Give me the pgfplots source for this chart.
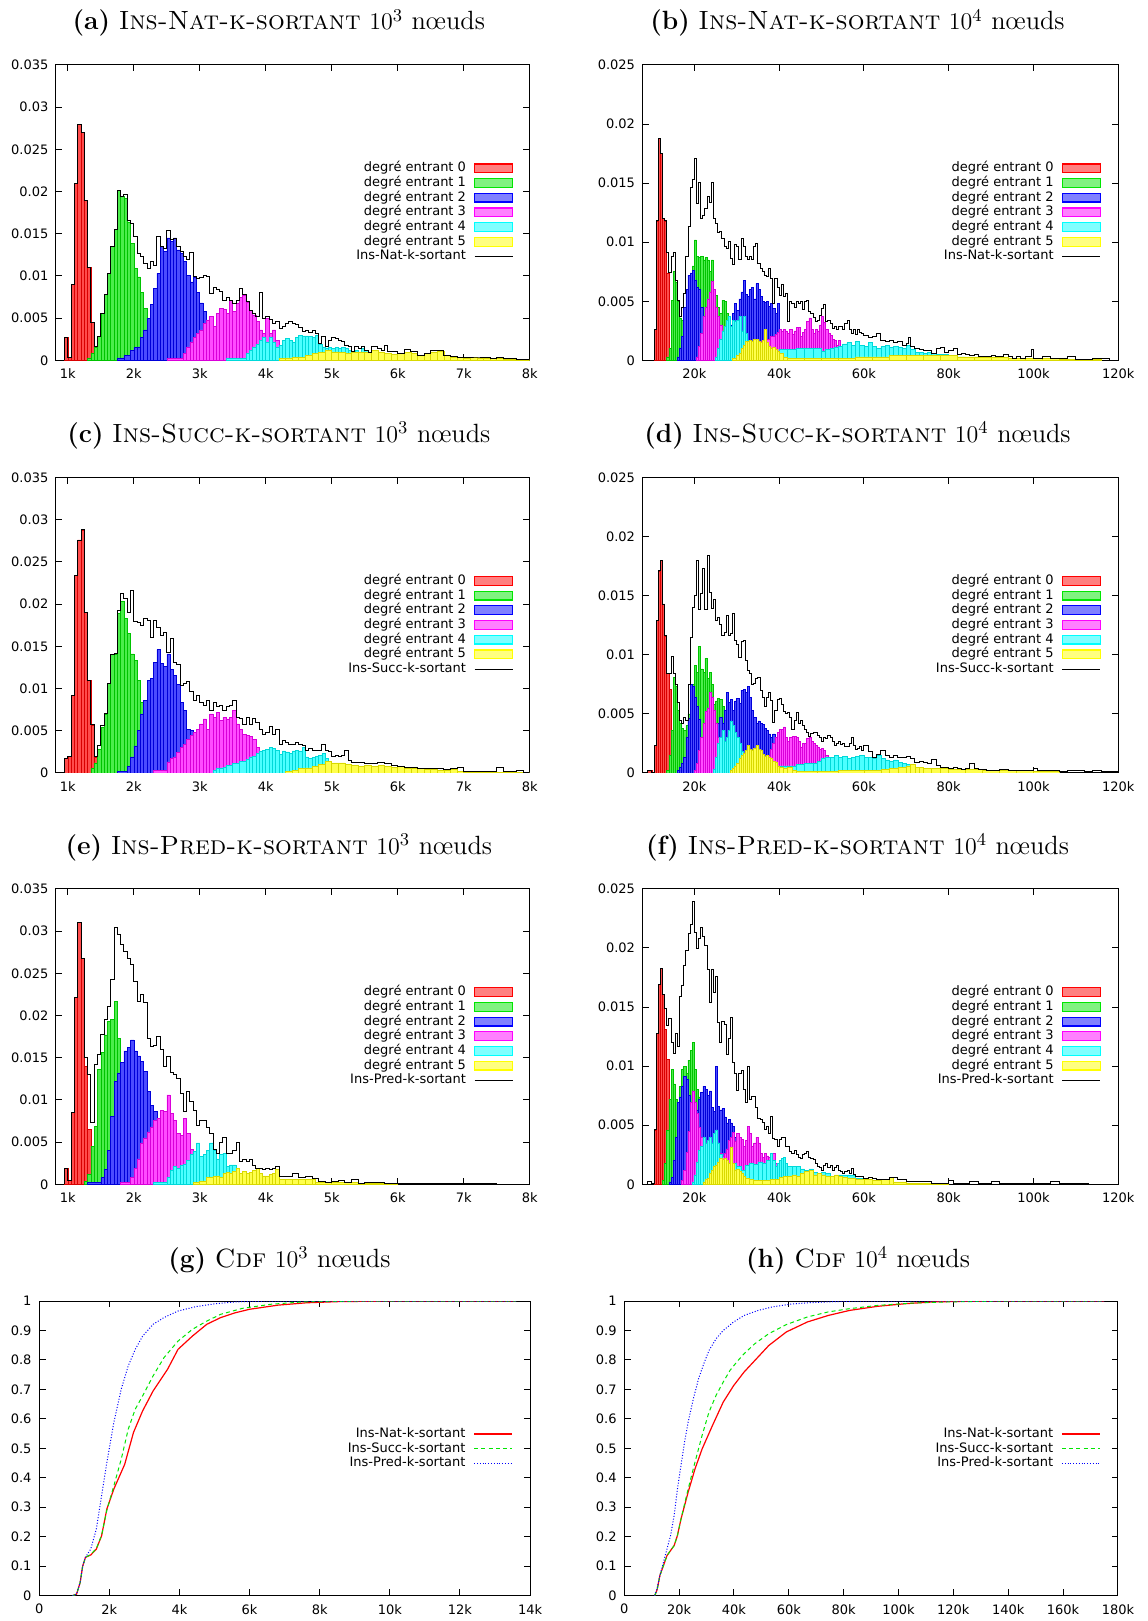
\documentclass[border=0pt]{standalone}
\usepackage{fontspec}
\usepackage{pgfplots}
\pgfplotsset{compat=1.18}
\newfontfamily\gpfont{DejaVu Sans}
\newcommand\gpf{\gpfont\fontsize{6.5}{7.5}\selectfont}
\newcommand\ttl[3]{\fontsize{13.2}{15}\selectfont\textbf{(#1)}\ \textsc{#2} $10^{#3}$ nœuds}
\definecolor{cR}{RGB}{255,0,0}
\definecolor{cG}{RGB}{0,230,0}
\definecolor{cB}{RGB}{0,0,255}
\definecolor{cM}{RGB}{255,0,255}
\definecolor{cC}{RGB}{0,255,255}
\definecolor{cY}{RGB}{255,255,0}
\pgfplotsset{
  hb/.style={ybar interval, fill=#1!70, draw=#1!85!black, line width=0.3pt,
    legend image code/.code={\draw[draw=#1,fill=#1!50,line width=0.6pt] (0pt,-2.2pt) rectangle (19pt,2.2pt);}},
  tot/.style={const plot, black, line width=0.45pt,
    legend image code/.code={\draw[black,line width=0.5pt] (0pt,0pt) -- (19pt,0pt);}},
  base/.style={scale only axis, height=147.8pt, enlargelimits=false, ymin=0, scaled ticks=false,
    axis line style={line width=0.5pt}, tick style={black, line width=0.5pt}, major tick length=3.2pt,
    ticklabel style={font=\gpf}, xticklabel style={yshift=-0.8pt}, yticklabel style={xshift=-0.3pt},
    legend plot pos=right, legend cell align=right,
    legend style={font=\gpf, draw=none, fill=none, inner sep=0pt, anchor=north east,
      row sep=1pt, column sep=4pt, nodes={inner sep=0pt, text height=4.9pt, text depth=1.45pt}}},
  h3/.style={base, width=237pt, xmin=820, xmax=8000, ymax=0.035,
    xtick={1000,2000,3000,4000,5000,6000,7000,8000}, xticklabels={1k,2k,3k,4k,5k,6k,7k,8k},
    ytick={0,0.005,0.01,0.015,0.02,0.025,0.03,0.035}, yticklabels={0,0.005,0.01,0.015,0.02,0.025,0.03,0.035},
    legend style={at={(0.966,0.673)}}},
  h4/.style={base, width=238pt, xmin=7800, xmax=120000, ymax=0.025,
    xtick={20000,40000,60000,80000,100000,120000}, xticklabels={20k,40k,60k,80k,100k,120k},
    ytick={0,0.005,0.01,0.015,0.02,0.025}, yticklabels={0,0.005,0.01,0.015,0.02,0.025},
    legend style={at={(0.964,0.673)}}},
  cdf/.style={base, ymax=1, ytick={0,0.1,0.2,0.3,0.4,0.5,0.6,0.7,0.8,0.9,1},
    yticklabels={0,0.1,0.2,0.3,0.4,0.5,0.6,0.7,0.8,0.9,1}, legend style={at={(0.966,0.572)}}},
  lnat/.style={cR, line width=0.6pt, legend image code/.code={\draw[cR,line width=0.8pt] (0pt,0pt) -- (19pt,0pt);}},
  lsucc/.style={cG, line width=0.5pt, dash pattern=on 2pt off 1.6pt, legend image code/.code={\draw[cG,line width=0.5pt,dash pattern=on 2pt off 1.6pt] (0pt,0pt) -- (19pt,0pt);}},
  lpred/.style={cB, line width=0.5pt, dash pattern=on 0.5pt off 0.9pt, legend image code/.code={\draw[cB,line width=0.5pt,dash pattern=on 0.5pt off 0.9pt] (0pt,0pt) -- (19pt,0pt);}},
}
\begin{document}
\begin{tikzpicture}
\path (0,0) rectangle (574pt,-810.5pt);
\node[anchor=base] at (139.5pt,-15pt) {\ttl{a}{Ins-Nat-k-sortant}{3}};
\node[anchor=base] at (429pt,-15pt) {\ttl{b}{Ins-Nat-k-sortant}{4}};
\node[anchor=base] at (139.5pt,-221.3pt) {\ttl{c}{Ins-Succ-k-sortant}{3}};
\node[anchor=base] at (429pt,-221.3pt) {\ttl{d}{Ins-Succ-k-sortant}{4}};
\node[anchor=base] at (139.5pt,-427.6pt) {\ttl{e}{Ins-Pred-k-sortant}{3}};
\node[anchor=base] at (429pt,-427.6pt) {\ttl{f}{Ins-Pred-k-sortant}{4}};
\node[anchor=base] at (139.8pt,-633.9pt) {\fontsize{13.2}{15}\selectfont\textbf{(g)}\ \textsc{Cdf} $10^{3}$ nœuds};
\node[anchor=base] at (429.3pt,-633.9pt) {\fontsize{13.2}{15}\selectfont\textbf{(h)}\ \textsc{Cdf} $10^{4}$ nœuds};

% (a)
\begin{axis}[h3, at={(28pt,-32.5pt)}, anchor=north west,
  legend entries={degré entrant 0,degré entrant 1,degré entrant 2,degré entrant 3,degré entrant 4,degré entrant 5,Ins-Nat-k-sortant}]
\addplot[hb=cR] coordinates {(950,0.0027)(1000,0.0004)(1050,0.009)(1100,0.021)(1150,0.028)(1200,0.027)(1250,0.019)(1300,0.011)(1350,0.0045)(1400,0.0015)(1450,0)};
\addplot[hb=cG] coordinates {(1300,0.0003)(1350,0.0008)(1400,0.0016)(1450,0.0028)(1500,0.0056)(1550,0.0078)(1600,0.0103)(1650,0.0135)(1700,0.0155)(1750,0.0201)(1800,0.0194)(1850,0.0192)(1900,0.0164)(1950,0.0139)(2000,0.0109)(2050,0.0099)(2100,0.0081)(2150,0.0062)(2200,0.0036)(2250,0.0016)(2300,0.0004)(2350,0)};
\addplot[hb=cB] coordinates {(1750,0.0003)(1850,0.0006)(1950,0.0012)(2000,0.0015)(2050,0.0016)(2100,0.0027)(2150,0.0036)(2200,0.005)(2250,0.0066)(2300,0.0085)(2350,0.0103)(2400,0.0135)(2450,0.0129)(2500,0.0145)(2550,0.0141)(2600,0.0145)(2650,0.0131)(2700,0.0127)(2750,0.0117)(2800,0.0101)(2850,0.0093)(2900,0.0099)(2950,0.0081)(3000,0.0068)(3050,0.0058)(3100,0.0032)(3150,0.0012)(3200,0.0004)(3250,0)};
\addplot[hb=cM] coordinates {(2500,0.0002)(2750,0.0008)(2800,0.0016)(2850,0.0022)(2900,0.0027)(2950,0.0032)(3000,0.0036)(3050,0.0044)(3100,0.0048)(3150,0.0052)(3200,0.004)(3250,0.0056)(3300,0.0062)(3350,0.006)(3400,0.0056)(3450,0.0071)(3500,0.0058)(3550,0.0068)(3600,0.0075)(3650,0.0077)(3700,0.0069)(3750,0.0059)(3800,0.0054)(3850,0.0046)(3900,0.0036)(3950,0.0032)(4000,0.005)(4050,0.0032)(4100,0.0036)(4150,0.0024)(4200,0.0016)(4250,0.001)(4300,0.0006)(4350,0.0004)(4400,0.0002)(4600,0)};
\addplot[hb=cC] coordinates {(3400,0.0002)(3700,0.0008)(3750,0.0012)(3800,0.0016)(3850,0.0019)(3900,0.0024)(3950,0.0027)(4000,0.0022)(4050,0.0027)(4100,0.0022)(4150,0.0016)(4200,0.0018)(4250,0.0024)(4300,0.0026)(4350,0.0024)(4400,0.0022)(4450,0.0027)(4500,0.003)(4550,0.0029)(4600,0.0029)(4650,0.0028)(4700,0.0027)(4750,0.003)(4800,0.0019)(4850,0.0016)(4900,0.0014)(4950,0.0015)(5000,0.0014)(5050,0.0015)(5100,0.0014)(5150,0.0015)(5200,0.0014)(5250,0.0012)(5300,0.0008)(5350,0.0012)(5400,0.001)(5450,0.0014)(5500,0.0012)(5550,0.0008)(5600,0.0006)(5650,0.0004)(5700,0.0006)(5750,0.0004)(5800,0.0002)(6200,0)};
\addplot[hb=cY] coordinates {(4200,0.0002)(4300,0.0003)(4400,0.0004)(4500,0.0004)(4600,0.0006)(4700,0.0008)(4800,0.0009)(4900,0.0012)(5000,0.001)(5100,0.0009)(5200,0.0008)(5300,0.0009)(5400,0.001)(5500,0.0009)(5600,0.0012)(5700,0.001)(5800,0.0008)(5900,0.0007)(6000,0.0008)(6100,0.0009)(6200,0.0008)(6300,0.0006)(6400,0.0008)(6500,0.001)(6600,0.0011)(6700,0.0006)(6800,0.0004)(6900,0.0004)(7000,0.0003)(7100,0.0004)(7200,0.0002)(7300,0.0003)(7400,0.0002)(7500,0.0002)(7600,0.0001)(7700,0.0001)(7800,0.0001)(8000,0)};
\addplot[tot] coordinates {(950,0)(950,0.0027)(1000,0.0004)(1050,0.009)(1100,0.021)(1150,0.028)(1200,0.027)(1250,0.019)(1300,0.011)(1350,0.0045)(1400,0.0016)(1450,0.0028)(1500,0.0056)(1550,0.0078)(1600,0.0103)(1650,0.0135)(1700,0.0155)(1750,0.0201)(1800,0.0194)(1850,0.0197)(1900,0.0166)(1950,0.0162)(2000,0.0147)(2050,0.0127)(2100,0.0123)(2150,0.0115)(2200,0.0109)(2250,0.0117)(2300,0.0113)(2350,0.0147)(2400,0.0135)(2450,0.0133)(2500,0.0154)(2550,0.0143)(2600,0.0145)(2650,0.0135)(2700,0.0129)(2750,0.0123)(2800,0.0119)(2850,0.0128)(2900,0.0099)(2950,0.0097)(3000,0.0098)(3050,0.0101)(3100,0.0099)(3150,0.0079)(3200,0.0087)(3250,0.0084)(3300,0.0082)(3350,0.0071)(3400,0.0075)(3450,0.0071)(3500,0.0068)(3550,0.0071)(3600,0.0085)(3650,0.0078)(3700,0.007)(3750,0.0059)(3800,0.0056)(3850,0.0052)(3900,0.008)(3950,0.005)(4000,0.0052)(4050,0.0048)(4100,0.0044)(4150,0.0046)(4200,0.0038)(4250,0.004)(4300,0.0044)(4350,0.0046)(4400,0.0044)(4450,0.0042)(4500,0.0039)(4550,0.0034)(4600,0.0036)(4650,0.0033)(4700,0.0036)(4750,0.0032)(4800,0.002)(4850,0.0028)(4900,0.0016)(4950,0.0024)(5000,0.0027)(5050,0.0026)(5100,0.0024)(5150,0.0022)(5200,0.0018)(5250,0.0016)(5300,0.001)(5350,0.0016)(5400,0.0014)(5450,0.0017)(5500,0.0012)(5550,0.0009)(5600,0.0016)(5650,0.0016)(5700,0.0014)(5750,0.0012)(5800,0.0018)(5850,0.001)(5900,0.0011)(6000,0.0008)(6100,0.0013)(6200,0.001)(6300,0.0006)(6400,0.0008)(6500,0.0012)(6600,0.0012)(6700,0.0006)(6800,0.0005)(6900,0.0004)(7000,0.0003)(7100,0.0004)(7200,0.0004)(7300,0.0003)(7400,0.0002)(7500,0.0003)(7600,0.0002)(7700,0.0002)(7800,0.0001)(7900,0.0001)(8000,0.0001)};
\end{axis}

% (b)
\begin{axis}[h4, at={(321.5pt,-32.5pt)}, anchor=north west,
  legend entries={degré entrant 0,degré entrant 1,degré entrant 2,degré entrant 3,degré entrant 4,degré entrant 5,Ins-Nat-k-sortant}]
\addplot[hb=cR] coordinates {(10500,0.0026)(11000,0.0118)(11500,0.0188)(12000,0.0175)(12500,0.012)(13000,0.0118)(13500,0.0074)(14000,0.001)(14500,0)};
\addplot[hb=cG] coordinates {(13500,0.0003)(14000,0.001)(14500,0.0051)(15000,0.0075)(15500,0.0066)(16000,0.005)(16500,0.0036)(17000,0.0034)(17500,0.0034)(18000,0.004)(18500,0.005)(19000,0.006)(19500,0.008)(20000,0.0102)(20500,0.0088)(21000,0.0087)(21500,0.0088)(22000,0.0085)(22500,0.0087)(23000,0.0085)(23500,0.0075)(24000,0.0085)(24500,0.0058)(25000,0.0055)(25500,0.0045)(26000,0.004)(26500,0.0051)(27000,0.005)(27500,0.004)(28000,0.0022)(28500,0.0012)(29000,0.0005)(29500,0)};
\addplot[hb=cB] coordinates {(16000,0.0003)(16500,0.001)(17000,0.002)(17500,0.0045)(18000,0.006)(18500,0.0072)(19000,0.0074)(19500,0.0076)(20000,0.0068)(20500,0.0062)(21000,0.006)(21500,0.0045)(22000,0.002)(22500,0.0012)(23000,0.001)(24000,0.0012)(25000,0.0015)(26000,0.002)(27000,0.0025)(28000,0.003)(29000,0.004)(29500,0.0048)(30000,0.0042)(30500,0.0052)(31000,0.0058)(31500,0.0068)(32000,0.0056)(32500,0.0054)(33000,0.006)(33500,0.0062)(34000,0.0052)(34500,0.0065)(35000,0.006)(35500,0.0054)(36000,0.005)(36500,0.0049)(37000,0.005)(37500,0.0046)(38000,0.0048)(38500,0.0044)(39000,0.004)(39500,0.0048)(40000,0.0022)(40500,0.0014)(41000,0.0006)(41500,0.0002)(42000,0)};
\addplot[hb=cM] coordinates {(20500,0.0003)(21000,0.0012)(21500,0.0023)(22000,0.0037)(22500,0.0045)(23000,0.0052)(23500,0.0058)(24000,0.0067)(24500,0.006)(25000,0.0045)(25500,0.0037)(26000,0.003)(26500,0.0016)(27000,0.001)(27500,0.0008)(29000,0.001)(30000,0.001)(31000,0.0012)(32000,0.0012)(33000,0.0014)(34000,0.0015)(35000,0.0016)(36000,0.0016)(37000,0.0018)(38000,0.002)(39000,0.0022)(39500,0.0024)(40000,0.0026)(40500,0.0025)(41000,0.0026)(41500,0.0025)(42000,0.0023)(42500,0.0026)(43000,0.0022)(43500,0.0025)(44000,0.0028)(44500,0.0028)(45000,0.002)(45500,0.0024)(46000,0.0026)(46500,0.0033)(47000,0.0036)(47500,0.0026)(48000,0.0023)(48500,0.0026)(49000,0.0025)(49500,0.003)(50000,0.0037)(50500,0.0032)(51000,0.0026)(51500,0.0023)(52000,0.0021)(52500,0.0018)(53000,0.0017)(53500,0.0013)(54000,0.0017)(54500,0.001)(55000,0.0009)(56000,0.0006)(57000,0.0004)(58000,0.0002)(60000,0)};
\addplot[hb=cC] coordinates {(25000,0.0003)(25500,0.001)(26000,0.0018)(26500,0.0025)(27000,0.0029)(27500,0.0034)(28000,0.0037)(28500,0.0029)(29000,0.0034)(29500,0.0033)(30000,0.0034)(30500,0.0037)(31000,0.0025)(31500,0.0037)(32000,0.0023)(32500,0.0017)(33000,0.0012)(34000,0.0008)(36000,0.0008)(38000,0.0008)(40000,0.0009)(42000,0.0009)(44000,0.001)(46000,0.001)(48000,0.001)(50000,0.0008)(51000,0.0009)(52000,0.001)(53000,0.0011)(54000,0.0012)(55000,0.0014)(56000,0.0015)(57000,0.0013)(58000,0.0016)(59000,0.0013)(60000,0.0012)(61000,0.0015)(62000,0.0012)(63000,0.001)(64000,0.0012)(65000,0.0013)(66000,0.0011)(67000,0.0012)(68000,0.0011)(69000,0.001)(70000,0.0013)(71000,0.0009)(72000,0.0007)(73000,0.0007)(74000,0.0006)(75000,0.0007)(76000,0.0006)(77000,0.0005)(78000,0.0005)(80000,0.0004)(82000,0.0003)(84000,0.0002)(88000,0)};
\addplot[hb=cY] coordinates {(29000,0.0002)(30000,0.0004)(30500,0.0006)(31000,0.001)(31500,0.0013)(32000,0.0016)(32500,0.0016)(33000,0.0017)(33500,0.0016)(34000,0.0018)(34500,0.0018)(35000,0.0016)(35500,0.0015)(36000,0.0017)(36500,0.0026)(37000,0.0015)(37500,0.0012)(38000,0.001)(38500,0.0011)(39000,0.0009)(39500,0.0008)(40000,0.0006)(41000,0.0003)(42000,0.0002)(46000,0.0002)(50000,0.0002)(54000,0.0002)(58000,0.0003)(62000,0.0003)(66000,0.0004)(70000,0.0004)(74000,0.0004)(78000,0.0004)(82000,0.0003)(86000,0.0003)(90000,0.0003)(94000,0.0002)(98000,0.0002)(102000,0.0002)(106000,0.0001)(110000,0.0001)(116000,0)};
\addplot[tot] coordinates {(10500,0)(10500,0.0026)(11000,0.0118)(11500,0.0188)(12000,0.0175)(12500,0.012)(13000,0.0118)(13500,0.0091)(14000,0.0074)(14500,0.0088)(15000,0.0091)(15500,0.0068)(16000,0.0051)(16500,0.0037)(17000,0.0045)(17500,0.0057)(18000,0.0088)(18500,0.0113)(19000,0.0146)(19500,0.0153)(20000,0.0171)(20500,0.0133)(21000,0.0151)(21500,0.012)(22000,0.0123)(22500,0.0129)(23000,0.0139)(23500,0.0134)(24000,0.0151)(24500,0.012)(25000,0.0116)(25500,0.0108)(26000,0.0109)(26500,0.0103)(27000,0.0096)(27500,0.0095)(28000,0.0101)(28500,0.0086)(29000,0.0081)(29500,0.0098)(30000,0.0096)(30500,0.0085)(31000,0.0103)(31500,0.0096)(32000,0.0088)(32500,0.0085)(33000,0.0088)(33500,0.0085)(34000,0.0096)(34500,0.0099)(35000,0.0082)(35500,0.0078)(36000,0.0075)(36500,0.0072)(37000,0.0071)(37500,0.0078)(38000,0.0069)(38500,0.0048)(39000,0.0069)(39500,0.0062)(40000,0.0055)(40500,0.0064)(41000,0.0054)(41500,0.0057)(42000,0.0033)(42500,0.005)(43000,0.0048)(43500,0.0045)(44000,0.005)(44500,0.0048)(45000,0.005)(45500,0.0043)(46000,0.005)(46500,0.0051)(47000,0.0041)(47500,0.004)(48000,0.0036)(48500,0.0033)(49000,0.0034)(49500,0.0038)(50000,0.0044)(50500,0.0047)(51000,0.0033)(51500,0.0034)(52000,0.0031)(52500,0.0027)(53000,0.0029)(53500,0.0026)(54000,0.0029)(54500,0.0029)(55000,0.0026)(55500,0.0031)(56000,0.0034)(56500,0.0026)(57000,0.0023)(57500,0.0026)(58000,0.0022)(58500,0.0026)(59000,0.0024)(59500,0.0023)(60000,0.0021)(61000,0.0019)(62000,0.002)(63000,0.0023)(64000,0.0017)(65000,0.0016)(66000,0.0017)(67000,0.0015)(68000,0.0016)(69000,0.0013)(70000,0.0014)(70500,0.0019)(71000,0.0012)(72000,0.001)(73000,0.0009)(74000,0.0008)(75000,0.0008)(76000,0.0006)(77000,0.001)(78000,0.0011)(79000,0.0007)(80000,0.0008)(81000,0.001)(82000,0.0005)(83000,0.0006)(84000,0.0005)(85000,0.0004)(86000,0.0005)(87000,0.0003)(88000,0.0003)(89000,0.0003)(90000,0.0004)(91000,0.0003)(92000,0.0003)(93000,0.0005)(94000,0.0003)(95000,0.0002)(96000,0.0003)(97000,0.0002)(98000,0.0003)(99000,0.0003)(99500,0.0009)(100000,0.0002)(102000,0.0003)(104000,0.0002)(106000,0.0002)(108000,0.0003)(110000,0.0001)(112000,0.0001)(114000,0.0002)(118000,0)};
\end{axis}

% (c)
\begin{axis}[h3, at={(28pt,-238.9pt)}, anchor=north west,
  legend entries={degré entrant 0,degré entrant 1,degré entrant 2,degré entrant 3,degré entrant 4,degré entrant 5,Ins-Succ-k-sortant}]
\addplot[hb=cR] coordinates {(950,0.0017)(1000,0.002)(1050,0.0092)(1100,0.0234)(1150,0.0276)(1200,0.0288)(1250,0.019)(1300,0.011)(1350,0.0057)(1400,0.0019)(1450,0)};
\addplot[hb=cG] coordinates {(1350,0.0005)(1400,0.0012)(1450,0.0028)(1500,0.0054)(1550,0.007)(1600,0.0106)(1650,0.014)(1700,0.0141)(1750,0.0189)(1800,0.0203)(1850,0.0183)(1900,0.0165)(1950,0.0141)(2000,0.0133)(2050,0.011)(2100,0.0084)(2150,0.0074)(2200,0.003)(2250,0.001)(2300,0.0003)(2350,0)};
\addplot[hb=cB] coordinates {(1750,0.0002)(1900,0.0008)(1950,0.0019)(2000,0.0032)(2050,0.005)(2100,0.007)(2150,0.0086)(2200,0.011)(2250,0.0112)(2300,0.0131)(2350,0.0146)(2400,0.013)(2450,0.0126)(2500,0.0141)(2550,0.0123)(2600,0.0116)(2650,0.0105)(2700,0.0084)(2750,0.0074)(2800,0.0052)(2850,0.005)(2900,0.0035)(2950,0.0018)(3000,0.0006)(3050,0.0002)(3100,0)};
\addplot[hb=cM] coordinates {(2300,0.0003)(2500,0.0013)(2550,0.0017)(2600,0.0019)(2650,0.0024)(2700,0.003)(2750,0.0034)(2800,0.004)(2850,0.0044)(2900,0.0048)(2950,0.0052)(3000,0.0058)(3050,0.0064)(3100,0.0052)(3150,0.007)(3200,0.0066)(3250,0.0072)(3300,0.0062)(3350,0.0066)(3400,0.0064)(3450,0.0066)(3500,0.0074)(3550,0.0058)(3600,0.0052)(3650,0.0046)(3700,0.0044)(3750,0.0043)(3800,0.004)(3850,0.003)(3900,0.0022)(3950,0.0018)(4000,0.0012)(4050,0.0008)(4100,0.0005)(4150,0.0003)(4250,0)};
\addplot[hb=cC] coordinates {(3200,0.0003)(3250,0.0005)(3300,0.0006)(3350,0.0007)(3400,0.0009)(3500,0.0011)(3600,0.0014)(3700,0.0016)(3750,0.0019)(3800,0.002)(3850,0.0023)(3900,0.0026)(3950,0.0027)(4000,0.0028)(4050,0.003)(4100,0.0029)(4150,0.0027)(4200,0.0022)(4250,0.0026)(4300,0.0025)(4350,0.0023)(4400,0.0026)(4450,0.0027)(4500,0.0026)(4550,0.003)(4600,0.0019)(4650,0.0017)(4700,0.0018)(4750,0.002)(4800,0.0021)(4850,0.0023)(4900,0.0017)(4950,0.0014)(5000,0.0011)(5050,0.0008)(5100,0.0009)(5150,0.001)(5200,0.0008)(5300,0.0006)(5400,0.0004)(5500,0.0002)(5700,0)};
\addplot[hb=cY] coordinates {(4300,0.0002)(4400,0.0003)(4500,0.0005)(4600,0.0006)(4700,0.0008)(4800,0.001)(4900,0.0014)(5000,0.0012)(5100,0.0012)(5200,0.001)(5300,0.0009)(5400,0.0008)(5500,0.0009)(5600,0.0008)(5700,0.0009)(5800,0.0008)(5900,0.0007)(6000,0.0008)(6100,0.0006)(6200,0.0006)(6300,0.0005)(6400,0.0004)(6500,0.0004)(6600,0.0003)(6700,0.0003)(6800,0.0004)(6900,0.0002)(7000,0.0001)(8000,0)};
\addplot[tot] coordinates {(950,0)(950,0.0017)(1000,0.002)(1050,0.0092)(1100,0.0234)(1150,0.0276)(1200,0.0288)(1250,0.019)(1300,0.011)(1350,0.0057)(1400,0.0019)(1450,0.0032)(1500,0.0056)(1550,0.007)(1600,0.0106)(1650,0.014)(1700,0.0141)(1750,0.0193)(1800,0.0213)(1850,0.0207)(1900,0.019)(1950,0.0216)(2000,0.018)(2050,0.0178)(2100,0.0175)(2150,0.0183)(2200,0.0181)(2250,0.016)(2300,0.0181)(2350,0.0172)(2400,0.0163)(2450,0.0166)(2500,0.0143)(2550,0.0159)(2600,0.0131)(2650,0.0128)(2700,0.0104)(2750,0.0106)(2800,0.0108)(2850,0.0096)(2900,0.0086)(2950,0.0092)(3000,0.0084)(3050,0.008)(3100,0.0086)(3150,0.0074)(3200,0.0083)(3250,0.0079)(3300,0.008)(3350,0.0074)(3400,0.0079)(3450,0.008)(3500,0.0086)(3550,0.0066)(3600,0.0064)(3650,0.0058)(3700,0.0066)(3750,0.0058)(3800,0.0064)(3850,0.006)(3900,0.0052)(3950,0.0046)(4000,0.0048)(4050,0.0055)(4100,0.0046)(4150,0.0052)(4200,0.0034)(4250,0.0038)(4300,0.0036)(4350,0.0034)(4400,0.0034)(4450,0.0036)(4500,0.0034)(4550,0.0032)(4600,0.0027)(4650,0.0029)(4700,0.0027)(4750,0.0027)(4800,0.0027)(4850,0.0034)(4900,0.0027)(4950,0.0025)(5000,0.0019)(5050,0.0021)(5100,0.0019)(5150,0.0021)(5200,0.0027)(5250,0.0015)(5300,0.0013)(5400,0.0013)(5500,0.0011)(5600,0.0011)(5700,0.0013)(5800,0.0011)(5900,0.0009)(6000,0.0008)(6100,0.0007)(6200,0.0006)(6300,0.0005)(6400,0.0005)(6500,0.0005)(6600,0.0005)(6700,0.0004)(6800,0.0005)(6900,0.0006)(7000,0.0002)(7100,0.0002)(7200,0.0002)(7300,0.0002)(7400,0.0002)(7500,0.0007)(7600,0.0002)(7700,0.0002)(7800,0.0003)(7900,0.0001)(8000,0.0001)};
\end{axis}

% (d)
\begin{axis}[h4, at={(321.5pt,-238.9pt)}, anchor=north west,
  legend entries={degré entrant 0,degré entrant 1,degré entrant 2,degré entrant 3,degré entrant 4,degré entrant 5,Ins-Succ-k-sortant}]
\addplot[hb=cR] coordinates {(9000,0.0002)(10000,0)(10500,0.0023)(11000,0.0129)(11500,0.0171)(12000,0.018)(12500,0.0143)(13000,0.0116)(13500,0.0084)(14000,0.0071)(14500,0.0015)(15000,0)};
\addplot[hb=cG] coordinates {(13500,0.0002)(14000,0.0015)(14500,0.0036)(15000,0.0081)(15500,0.0073)(16000,0.0053)(16500,0.0042)(17000,0.0038)(17500,0.0036)(18000,0.004)(18500,0.005)(19000,0.0062)(19500,0.0075)(20000,0.0091)(20500,0.0085)(21000,0.0107)(21500,0.0088)(22000,0.0085)(22500,0.0097)(23000,0.008)(23500,0.0085)(24000,0.0075)(24500,0.0058)(25000,0.0061)(25500,0.0063)(26000,0.0062)(26500,0.0056)(27000,0.0042)(27500,0.0025)(28000,0.0012)(28500,0.0004)(29000,0)};
\addplot[hb=cB] coordinates {(16000,0.0002)(16500,0.0005)(17000,0.0008)(17500,0.0013)(18000,0.003)(18500,0.0046)(19000,0.0075)(19500,0.0073)(20000,0.0064)(20500,0.0056)(21000,0.0045)(21500,0.003)(22000,0.0012)(22500,0.0015)(23000,0.0018)(23500,0.002)(24000,0.0022)(24500,0.003)(25000,0.0036)(25500,0.0042)(26000,0.0047)(26500,0.0042)(27000,0.0053)(27500,0.0068)(28000,0.006)(28500,0.0062)(29000,0.0053)(29500,0.0061)(30000,0.0063)(30500,0.0059)(31000,0.007)(31500,0.0071)(32000,0.0068)(32500,0.0073)(33000,0.0064)(33500,0.0053)(34000,0.0047)(34500,0.0042)(35000,0.0044)(35500,0.0042)(36000,0.0041)(36500,0.0038)(37000,0.0036)(37500,0.0033)(38000,0.003)(38500,0.0033)(39000,0.0028)(39500,0.0025)(40000,0.0019)(40500,0.001)(41000,0.0005)(41500,0)};
\addplot[hb=cM] coordinates {(20000,0.0002)(20500,0.0008)(21000,0.0019)(21500,0.003)(22000,0.0042)(22500,0.0052)(23000,0.0055)(23500,0.0068)(24000,0.0064)(24500,0.0053)(25000,0.0042)(25500,0.003)(26000,0.0019)(26500,0.001)(27000,0.0005)(27500,0.0004)(29000,0.0005)(30000,0.0005)(31000,0.0006)(32000,0.0008)(33000,0.0009)(34000,0.001)(35000,0.0012)(36000,0.0014)(37000,0.0015)(38000,0.002)(38500,0.0025)(39000,0.003)(39500,0.0034)(40000,0.0037)(40500,0.0037)(41000,0.0039)(41500,0.003)(42000,0.0027)(42500,0.003)(43000,0.0031)(43500,0.0031)(44000,0.003)(44500,0.0027)(45000,0.0022)(45500,0.0025)(46000,0.0025)(46500,0.0029)(47000,0.003)(47500,0.0027)(48000,0.0025)(48500,0.0023)(49000,0.0022)(49500,0.002)(50000,0.0021)(50500,0.0019)(51000,0.0015)(51500,0.0013)(52000,0.0008)(52500,0.0005)(53000,0.0003)(54000,0)};
\addplot[hb=cC] coordinates {(24500,0.0003)(25000,0.0013)(25500,0.0025)(26000,0.003)(26500,0.0036)(27000,0.0027)(27500,0.003)(28000,0.0036)(28500,0.0044)(29000,0.004)(29500,0.0034)(30000,0.003)(30500,0.0025)(31000,0.0018)(31500,0.001)(32000,0.0007)(33000,0.0005)(34000,0.0005)(36000,0.0005)(38000,0.0005)(40000,0.0006)(42000,0.0006)(44000,0.0007)(46000,0.0008)(48000,0.0008)(49000,0.001)(50000,0.0012)(51000,0.0013)(52000,0.0013)(53000,0.0015)(54000,0.0013)(55000,0.0014)(56000,0.0012)(57000,0.0013)(58000,0.0014)(59000,0.0015)(60000,0.0013)(61000,0.0013)(62000,0.0012)(63000,0.0015)(64000,0.0012)(65000,0.0011)(66000,0.001)(67000,0.0011)(68000,0.0009)(69000,0.0008)(70000,0.0007)(71000,0.0005)(72000,0.0004)(74000,0.0003)(76000,0.0002)(80000,0)};
\addplot[hb=cY] coordinates {(28500,0.0002)(29000,0.0004)(29500,0.0006)(30000,0.0008)(30500,0.0012)(31000,0.0015)(31500,0.0017)(32000,0.0019)(32500,0.0023)(33000,0.002)(33500,0.0019)(34000,0.0021)(34500,0.0023)(35000,0.002)(35500,0.0019)(36000,0.0016)(36500,0.0014)(37000,0.0015)(37500,0.0013)(38000,0.0012)(38500,0.001)(39000,0.0009)(39500,0.0006)(40000,0.0005)(41000,0.0004)(42000,0.0005)(43000,0.0002)(44000,0.0001)(49000,0.0001)(54000,0.0002)(60000,0.0002)(64000,0.0003)(66000,0.0004)(68000,0.0005)(70000,0.0006)(71000,0.0007)(72000,0.0005)(73000,0.0005)(74000,0.0004)(76000,0.0004)(78000,0.0004)(80000,0.0003)(84000,0.0003)(88000,0.0002)(92000,0.0002)(96000,0.0002)(100000,0.0001)(106000,0)};
\addplot[tot] coordinates {(9000,0)(9000,0.0002)(10000,0)(10500,0.0023)(11000,0.0129)(11500,0.0171)(12000,0.018)(12500,0.0143)(13000,0.0116)(13500,0.0084)(14000,0.0084)(14500,0.0099)(15000,0.0084)(15500,0.0075)(16000,0.006)(16500,0.0044)(17000,0.0042)(17500,0.0047)(18000,0.0044)(18500,0.0075)(19000,0.0115)(19500,0.014)(20000,0.015)(20500,0.018)(21000,0.0138)(21500,0.0152)(22000,0.0173)(22500,0.0138)(23000,0.0184)(23500,0.0153)(24000,0.0139)(24500,0.0147)(25000,0.0129)(25500,0.0132)(26000,0.0126)(26500,0.0116)(27000,0.0119)(27500,0.0133)(28000,0.0116)(28500,0.0118)(29000,0.0135)(29500,0.0112)(30000,0.0109)(30500,0.0098)(31000,0.0111)(31500,0.0112)(32000,0.0095)(32500,0.0087)(33000,0.0084)(33500,0.0075)(34000,0.0076)(34500,0.008)(35000,0.0081)(35500,0.007)(36000,0.0064)(36500,0.0056)(37000,0.0064)(37500,0.0068)(38000,0.0061)(38500,0.0043)(39000,0.0053)(39500,0.0062)(40000,0.0063)(40500,0.0058)(41000,0.0052)(41500,0.005)(42000,0.0051)(42500,0.0047)(43000,0.0037)(43500,0.0044)(44000,0.0051)(44500,0.0042)(45000,0.0044)(45500,0.004)(46000,0.0037)(46500,0.0034)(47000,0.0031)(47500,0.0033)(48000,0.0034)(48500,0.0034)(49000,0.0032)(49500,0.003)(50000,0.0027)(50500,0.003)(51000,0.0029)(51500,0.0032)(52000,0.003)(52500,0.0027)(53000,0.0023)(53500,0.0025)(54000,0.0027)(54500,0.0024)(55000,0.0025)(55500,0.0022)(56000,0.0022)(56500,0.0025)(57000,0.003)(57500,0.0023)(58000,0.002)(58500,0.0021)(59000,0.0022)(59500,0.0019)(60000,0.0023)(61000,0.0018)(62000,0.0013)(63000,0.0016)(64000,0.0019)(65000,0.0015)(66000,0.0013)(67000,0.0015)(68000,0.0013)(69000,0.0013)(70000,0.0014)(71000,0.0012)(72000,0.0009)(73000,0.001)(74000,0.0009)(75000,0.0008)(76000,0.0011)(77000,0.0006)(78000,0.0005)(79000,0.0005)(80000,0.0004)(81000,0.0005)(82000,0.0004)(83000,0.0003)(84000,0.0004)(85000,0.0008)(86000,0.0004)(87000,0.0003)(88000,0.0003)(89000,0.0002)(90000,0.0002)(92000,0.0003)(94000,0.0002)(96000,0.0002)(98000,0.0002)(100000,0.0004)(101000,0.0002)(103000,0.0002)(106000,0.0001)(108000,0.0002)(110000,0.0002)(112000,0.0001)(114000,0.0002)(116000,0.0001)(118000,0.0001)(120000,0)};
\end{axis}

% (e)
\begin{axis}[h3, at={(28pt,-444.7pt)}, anchor=north west,
  legend entries={degré entrant 0,degré entrant 1,degré entrant 2,degré entrant 3,degré entrant 4,degré entrant 5,Ins-Pred-k-sortant}]
\addplot[hb=cR] coordinates {(950,0.0019)(1000,0.0005)(1050,0.0085)(1100,0.0221)(1150,0.031)(1200,0.0268)(1250,0.014)(1300,0.0065)(1350,0.003)(1400,0.0008)(1450,0)};
\addplot[hb=cG] coordinates {(1250,0.0003)(1300,0.0012)(1350,0.0045)(1400,0.0069)(1450,0.0136)(1500,0.0156)(1550,0.0177)(1600,0.0193)(1650,0.0195)(1700,0.0217)(1750,0.0173)(1800,0.0132)(1850,0.006)(1900,0.0025)(1950,0.0008)(2000,0.0002)(2050,0)};
\addplot[hb=cB] coordinates {(1300,0.0002)(1500,0.0008)(1550,0.0018)(1600,0.004)(1650,0.008)(1700,0.0122)(1750,0.0132)(1800,0.0144)(1850,0.0158)(1900,0.0162)(1950,0.0171)(2000,0.0158)(2050,0.0152)(2100,0.0146)(2150,0.0134)(2200,0.011)(2250,0.0093)(2300,0.0086)(2350,0.0076)(2400,0.005)(2450,0.002)(2500,0.0007)(2550,0)};
\addplot[hb=cM] coordinates {(1800,0.0002)(1950,0.0008)(2000,0.0019)(2050,0.003)(2100,0.0049)(2150,0.0055)(2200,0.0062)(2250,0.0068)(2300,0.0076)(2350,0.0078)(2400,0.0088)(2450,0.0086)(2500,0.0106)(2550,0.0084)(2600,0.0076)(2650,0.006)(2700,0.0058)(2750,0.0078)(2800,0.006)(2850,0.0041)(2900,0.0016)(2950,0.0006)(3000,0.0002)(3050,0)};
\addplot[hb=cC] coordinates {(2300,0.0002)(2500,0.0008)(2550,0.0016)(2600,0.0021)(2650,0.0019)(2700,0.0022)(2750,0.0024)(2800,0.0028)(2850,0.0035)(2900,0.0039)(2950,0.0049)(3000,0.0033)(3050,0.0035)(3100,0.004)(3150,0.0049)(3200,0.004)(3250,0.003)(3300,0.0035)(3350,0.0037)(3400,0.0021)(3450,0.0023)(3500,0.0023)(3550,0.0017)(3600,0.0009)(3650,0.0005)(3700,0.0003)(3800,0)};
\addplot[hb=cY] coordinates {(2900,0.0002)(3000,0.0004)(3100,0.0008)(3200,0.0009)(3250,0.001)(3300,0.0008)(3350,0.0013)(3400,0.0014)(3450,0.0013)(3500,0.0015)(3550,0.0019)(3600,0.0013)(3650,0.0015)(3700,0.0013)(3750,0.0014)(3800,0.0016)(3850,0.0019)(3900,0.0013)(3950,0.001)(4000,0.001)(4050,0.0012)(4100,0.0013)(4150,0.0018)(4200,0.0006)(4300,0.0006)(4400,0.0006)(4500,0.0006)(4600,0.0006)(4700,0.0006)(4750,0.0002)(5000,0.0002)(5400,0.0001)(6000,0)};
\addplot[tot] coordinates {(950,0)(950,0.0019)(1000,0.0005)(1050,0.0085)(1100,0.0221)(1150,0.031)(1200,0.0268)(1250,0.015)(1300,0.013)(1350,0.0073)(1400,0.0142)(1450,0.0154)(1500,0.0177)(1550,0.0195)(1600,0.0211)(1650,0.0243)(1700,0.0304)(1750,0.0296)(1800,0.0284)(1850,0.0276)(1900,0.0268)(1950,0.026)(2000,0.024)(2050,0.0217)(2100,0.0225)(2150,0.0215)(2200,0.0173)(2250,0.0163)(2300,0.0165)(2350,0.0175)(2400,0.016)(2450,0.014)(2500,0.0152)(2550,0.0132)(2600,0.013)(2650,0.0125)(2700,0.0108)(2750,0.0086)(2800,0.011)(2850,0.0098)(2900,0.0088)(2950,0.007)(3000,0.0076)(3050,0.0076)(3100,0.0067)(3150,0.006)(3200,0.0041)(3250,0.0037)(3300,0.0049)(3350,0.0055)(3400,0.0037)(3450,0.0036)(3500,0.004)(3550,0.005)(3600,0.0027)(3650,0.0029)(3700,0.0027)(3750,0.0029)(3800,0.0022)(3850,0.0019)(3900,0.0019)(3950,0.0018)(4000,0.0019)(4050,0.0017)(4100,0.0019)(4150,0.0021)(4200,0.0009)(4300,0.0009)(4400,0.0013)(4500,0.0008)(4600,0.0009)(4700,0.0007)(4800,0.0003)(4900,0.0002)(5000,0.0003)(5100,0.0005)(5200,0.0002)(5300,0.0006)(5400,0.0001)(5500,0.0002)(5600,0.0002)(5700,0.0002)(5800,0.0001)(6000,0.0001)(7500,0)};
\end{axis}

% (f)
\begin{axis}[h4, at={(321.5pt,-444.7pt)}, anchor=north west,
  legend entries={degré entrant 0,degré entrant 1,degré entrant 2,degré entrant 3,degré entrant 4,degré entrant 5,Ins-Pred-k-sortant}]
\addplot[hb=cR] coordinates {(10500,0.0046)(11000,0.0128)(11500,0.0169)(12000,0.0183)(12500,0.0161)(13000,0.0131)(13500,0.0106)(14000,0.006)(14500,0.001)(15000,0)};
\addplot[hb=cG] coordinates {(12500,0.0003)(13000,0.0018)(13500,0.0046)(14000,0.0072)(14500,0.0097)(15000,0.0085)(15500,0.0072)(16000,0.0063)(16500,0.0083)(17000,0.0097)(17500,0.01)(18000,0.0094)(18500,0.0105)(19000,0.0113)(19500,0.012)(20000,0.0097)(20500,0.008)(21000,0.0074)(21500,0.0069)(22000,0.0063)(22500,0.0045)(23000,0.0025)(23500,0.001)(24000,0.0003)(24500,0)};
\addplot[hb=cB] coordinates {(14000,0.0002)(14500,0.0006)(15000,0.002)(15500,0.004)(16000,0.0069)(16500,0.0074)(17000,0.0083)(17500,0.0091)(18000,0.0089)(18500,0.0075)(19000,0.0069)(19500,0.0063)(20000,0.0052)(20500,0.0063)(21000,0.0072)(21500,0.0078)(22000,0.0083)(22500,0.008)(23000,0.0075)(23500,0.0079)(24000,0.0065)(24500,0.0062)(25000,0.01)(25500,0.0066)(26000,0.0063)(26500,0.0064)(27000,0.0057)(27500,0.0052)(28000,0.0055)(28500,0.0052)(29000,0.0049)(29500,0.004)(30000,0.0025)(30500,0.0012)(31000,0.0004)(31500,0)};
\addplot[hb=cM] coordinates {(17000,0.0003)(17500,0.0012)(18000,0.0027)(18500,0.0045)(19000,0.0069)(19500,0.0079)(20000,0.0069)(20500,0.006)(21000,0.0048)(21500,0.004)(22000,0.0026)(22500,0.0018)(23000,0.001)(23500,0.0008)(24000,0.001)(25000,0.0015)(26000,0.0026)(26500,0.0024)(27000,0.0026)(27500,0.003)(28000,0.0037)(28500,0.004)(29000,0.0044)(29500,0.0036)(30000,0.0043)(30500,0.004)(31000,0.0038)(31500,0.0032)(32000,0.0037)(32500,0.0049)(33000,0.0043)(33500,0.0032)(34000,0.0035)(34500,0.004)(35000,0.0035)(35500,0.0026)(36000,0.0023)(36500,0.0026)(37000,0.0024)(37500,0.0023)(38000,0.002)(38500,0.0026)(39000,0.0018)(39500,0.0015)(40000,0.0012)(41000,0.0009)(42000,0.0005)(43000,0.0003)(44000,0)};
\addplot[hb=cC] coordinates {(19500,0.0002)(20000,0.0008)(20500,0.0019)(21000,0.0029)(21500,0.0032)(22000,0.004)(22500,0.0035)(23000,0.0037)(23500,0.004)(24000,0.0035)(24500,0.0043)(25000,0.0046)(25500,0.0035)(26000,0.0025)(26500,0.002)(27000,0.0016)(27500,0.0013)(28000,0.0012)(29000,0.0018)(30000,0.0015)(31000,0.0012)(32000,0.0016)(33000,0.0018)(34000,0.0017)(35000,0.0019)(36000,0.0018)(37000,0.002)(38000,0.0026)(38500,0.002)(39000,0.0015)(39500,0.0018)(40000,0.002)(40500,0.0022)(41000,0.0023)(41500,0.0018)(42000,0.0015)(43000,0.0015)(44000,0.0015)(45000,0.0013)(46000,0.0012)(47000,0.0013)(48000,0.001)(49000,0.0009)(50000,0.001)(51000,0.0009)(52000,0.0007)(54000,0.0008)(56000,0.0008)(58000,0.0005)(60000,0.0002)(62000,0)};
\addplot[hb=cY] coordinates {(22000,0.0002)(22500,0.0004)(23000,0.0005)(23500,0.0009)(24000,0.0012)(24500,0.0015)(25000,0.0016)(25500,0.0019)(26000,0.0022)(26500,0.0021)(27000,0.0022)(27500,0.002)(28000,0.0018)(28500,0.0031)(29000,0.0018)(29500,0.0012)(30000,0.0013)(30500,0.0011)(31000,0.0009)(31500,0.0007)(32000,0.0005)(33000,0.0004)(34000,0.0003)(36000,0.0003)(38000,0.0004)(39000,0.0004)(40000,0.0006)(41000,0.0007)(42000,0.0007)(43000,0.0008)(44000,0.0007)(45000,0.0009)(46000,0.0011)(47000,0.0012)(48000,0.0008)(49000,0.0009)(50000,0.0008)(51000,0.0007)(52000,0.0007)(53000,0.0008)(54000,0.0007)(55000,0.0006)(56000,0.0005)(58000,0.0004)(60000,0.0004)(62000,0.0003)(64000,0.0004)(66000,0.0006)(67000,0.0002)(70000,0.0001)(80000,0)};
\addplot[tot] coordinates {(9000,0)(9000,0.0002)(10000,0.0001)(10500,0.0046)(11000,0.0128)(11500,0.0169)(12000,0.0183)(12500,0.0161)(13000,0.0149)(13500,0.0134)(14000,0.014)(14500,0.012)(15000,0.0111)(15500,0.0128)(16000,0.0117)(16500,0.0159)(17000,0.0168)(17500,0.0185)(18000,0.0198)(18500,0.0212)(19000,0.022)(19500,0.0239)(20000,0.0213)(20500,0.02)(21000,0.0208)(21500,0.0217)(22000,0.021)(22500,0.0202)(23000,0.0182)(23500,0.0154)(24000,0.0182)(24500,0.0162)(25000,0.0176)(25500,0.0137)(26000,0.012)(26500,0.0138)(27000,0.0135)(27500,0.011)(28000,0.0123)(28500,0.0141)(29000,0.0103)(29500,0.0094)(30000,0.0079)(30500,0.0094)(31000,0.0096)(31500,0.008)(32000,0.0069)(32500,0.01)(33000,0.0072)(33500,0.0074)(34000,0.0074)(34500,0.0065)(35000,0.0056)(35500,0.0055)(36000,0.0052)(36500,0.0046)(37000,0.0049)(37500,0.0043)(38000,0.0057)(38500,0.0039)(39000,0.0038)(39500,0.0032)(40000,0.0038)(40500,0.004)(41000,0.004)(41500,0.0032)(42000,0.0032)(42500,0.0028)(43000,0.0026)(43500,0.0029)(44000,0.0025)(44500,0.0023)(45000,0.0022)(45500,0.0025)(46000,0.0026)(46500,0.0028)(47000,0.0023)(47500,0.0022)(48000,0.0021)(48500,0.0018)(49000,0.0015)(49500,0.0014)(50000,0.0012)(50500,0.0016)(51000,0.0018)(51500,0.0014)(52000,0.0016)(52500,0.0012)(53000,0.0014)(53500,0.0016)(54000,0.0012)(54500,0.0011)(55000,0.0009)(55500,0.0011)(56000,0.0012)(56500,0.0009)(57000,0.0013)(57500,0.0008)(58000,0.0007)(59000,0.0007)(60000,0.0005)(61000,0.0006)(62000,0.0005)(63000,0.0004)(64000,0.0004)(65000,0.0004)(66000,0.0006)(67000,0.0006)(68000,0.0004)(70000,0.0002)(72000,0.0002)(74000,0.0002)(76000,0.0001)(78000,0.0001)(80000,0.0003)(81000,0.0001)(83000,0.0001)(85000,0.0002)(87000,0.0001)(90000,0.0002)(92000,0.0001)(100000,0.0001)(104000,0.0002)(106000,0.0001)(113000,0)};
\end{axis}

% (g)
\begin{axis}[cdf, width=245.6pt, height=147.4pt, at={(19.6pt,-650.9pt)}, anchor=north west,
  xmin=0, xmax=14000, xtick={0,2000,4000,6000,8000,10000,12000,14000}, xticklabels={0,2k,4k,6k,8k,10k,12k,14k},
  legend entries={Ins-Nat-k-sortant,Ins-Succ-k-sortant,Ins-Pred-k-sortant}]
\addplot[lnat] coordinates {(950,0)(1067,0.005)(1169,0.045)(1240,0.1)(1320,0.13)(1470,0.138)(1630,0.158)(1780,0.203)(1930,0.294)(2130,0.362)(2440,0.446)(2690,0.554)(2950,0.627)(3250,0.695)(3660,0.768)(3960,0.836)(4370,0.881)(4780,0.921)(5180,0.944)(5590,0.96)(6000,0.972)(6810,0.986)(7620,0.994)(8540,0.998)(10060,1)(13600,1)};
\addplot[lsucc] coordinates {(950,0)(1067,0.005)(1169,0.045)(1240,0.1)(1320,0.13)(1470,0.14)(1630,0.16)(1780,0.205)(1930,0.29)(2130,0.373)(2340,0.463)(2540,0.565)(2740,0.633)(2950,0.678)(3250,0.746)(3560,0.808)(3960,0.864)(4370,0.904)(4780,0.932)(5180,0.955)(5790,0.975)(6610,0.989)(7520,0.997)(8540,0.999)(10060,1)(13600,1)};
\addplot[lpred] coordinates {(950,0)(1067,0.005)(1169,0.045)(1240,0.1)(1320,0.13)(1470,0.158)(1630,0.226)(1780,0.339)(1930,0.452)(2130,0.588)(2340,0.701)(2540,0.78)(2740,0.836)(2950,0.881)(3250,0.921)(3560,0.944)(3960,0.966)(4470,0.981)(4980,0.99)(5590,0.997)(6200,0.999)(7010,1)(13600,1)};
\end{axis}

% (h)
\begin{axis}[cdf, width=247pt, height=147.4pt, at={(312.3pt,-650.9pt)}, anchor=north west,
  xmin=0, xmax=180000, xtick={0,20000,40000,60000,80000,100000,120000,140000,160000,180000},
  xticklabels={0,20k,40k,60k,80k,100k,120k,140k,160k,180k},
  legend entries={Ins-Nat-k-sortant,Ins-Succ-k-sortant,Ins-Pred-k-sortant}]
\addplot[lnat] coordinates {(11100,0)(12000,0.02)(13000,0.068)(14300,0.102)(15600,0.136)(16900,0.153)(18200,0.17)(19400,0.204)(20700,0.26)(23300,0.351)(25800,0.43)(28400,0.498)(32200,0.578)(36100,0.657)(39900,0.713)(43700,0.759)(47600,0.798)(52700,0.849)(59100,0.895)(66800,0.929)(74400,0.951)(82100,0.968)(92300,0.982)(102600,0.991)(112800,0.997)(124000,0.999)(137000,1)(175000,1)};
\addplot[lsucc] coordinates {(11100,0)(12000,0.02)(13000,0.068)(14300,0.102)(15600,0.136)(16900,0.153)(18200,0.17)(19400,0.204)(20700,0.26)(23300,0.362)(25800,0.453)(28400,0.544)(30900,0.623)(33500,0.68)(36100,0.725)(38600,0.765)(41200,0.795)(43700,0.821)(47600,0.855)(52700,0.889)(59100,0.92)(66800,0.946)(74400,0.963)(82100,0.974)(92300,0.985)(105100,0.993)(117900,0.997)(130700,0.999)(145000,1)(175000,1)};
\addplot[lpred] coordinates {(11100,0)(12000,0.025)(13000,0.068)(14300,0.113)(15600,0.159)(16900,0.204)(18200,0.272)(19400,0.362)(20700,0.442)(22000,0.521)(23300,0.589)(25200,0.668)(27100,0.736)(29000,0.787)(30900,0.832)(33500,0.872)(36100,0.9)(39900,0.929)(43700,0.951)(48800,0.968)(54000,0.98)(60400,0.989)(66800,0.994)(77000,0.998)(85900,1)(175000,1)};
\end{axis}
\end{tikzpicture}
\end{document}
